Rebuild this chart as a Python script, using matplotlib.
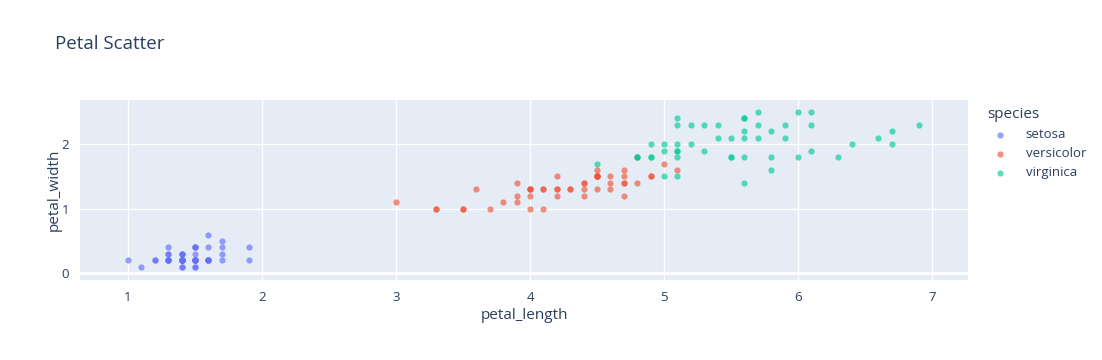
import matplotlib
matplotlib.use("Agg")
import matplotlib.pyplot as plt

# iris petal measurements
setosa_len = [1.4, 1.4, 1.3, 1.5, 1.4, 1.7, 1.4, 1.5, 1.4, 1.5, 1.5, 1.6, 1.4, 1.1, 1.2, 1.5, 1.3, 1.4, 1.7, 1.5,
              1.7, 1.5, 1.0, 1.7, 1.9, 1.6, 1.6, 1.5, 1.4, 1.6, 1.6, 1.5, 1.5, 1.4, 1.5, 1.2, 1.3, 1.4, 1.3, 1.5,
              1.3, 1.3, 1.3, 1.6, 1.9, 1.4, 1.6, 1.4, 1.5, 1.4]
setosa_wid = [0.2, 0.2, 0.2, 0.2, 0.2, 0.4, 0.3, 0.2, 0.2, 0.1, 0.2, 0.2, 0.1, 0.1, 0.2, 0.4, 0.4, 0.3, 0.3, 0.3,
              0.2, 0.4, 0.2, 0.5, 0.2, 0.2, 0.4, 0.2, 0.2, 0.2, 0.2, 0.4, 0.1, 0.2, 0.2, 0.2, 0.2, 0.1, 0.2, 0.2,
              0.3, 0.3, 0.2, 0.6, 0.4, 0.3, 0.2, 0.2, 0.2, 0.2]
versi_len = [4.7, 4.5, 4.9, 4.0, 4.6, 4.5, 4.7, 3.3, 4.6, 3.9, 3.5, 4.2, 4.0, 4.7, 3.6, 4.4, 4.5, 4.1, 4.5, 3.9,
             4.8, 4.0, 4.9, 4.7, 4.3, 4.4, 4.8, 5.0, 4.5, 3.5, 3.8, 3.7, 3.9, 5.1, 4.5, 4.5, 4.7, 4.4, 4.1, 4.0,
             4.4, 4.6, 4.0, 3.3, 4.2, 4.2, 4.2, 4.3, 3.0, 4.1]
versi_wid = [1.4, 1.5, 1.5, 1.3, 1.5, 1.3, 1.6, 1.0, 1.3, 1.4, 1.0, 1.5, 1.0, 1.4, 1.3, 1.4, 1.5, 1.0, 1.5, 1.1,
             1.8, 1.3, 1.5, 1.2, 1.3, 1.4, 1.4, 1.7, 1.5, 1.0, 1.1, 1.0, 1.2, 1.6, 1.5, 1.6, 1.5, 1.3, 1.3, 1.3,
             1.2, 1.4, 1.2, 1.0, 1.3, 1.2, 1.3, 1.3, 1.1, 1.3]
virg_len = [6.0, 5.1, 5.9, 5.6, 5.8, 6.6, 4.5, 6.3, 5.8, 6.1, 5.1, 5.3, 5.5, 5.0, 5.1, 5.3, 5.5, 6.7, 6.9, 5.0,
            5.7, 4.9, 6.7, 4.9, 5.7, 6.0, 4.8, 4.9, 5.6, 5.8, 6.1, 6.4, 5.6, 5.1, 5.6, 6.1, 5.6, 5.5, 4.8, 5.4,
            5.6, 5.1, 5.1, 5.9, 5.7, 5.2, 5.0, 5.2, 5.4, 5.1]
virg_wid = [2.5, 1.9, 2.1, 1.8, 2.2, 2.1, 1.7, 1.8, 1.8, 2.5, 2.0, 1.9, 2.1, 2.0, 2.4, 2.3, 1.8, 2.2, 2.3, 1.5,
            2.3, 2.0, 2.0, 1.8, 2.1, 1.8, 1.8, 1.8, 2.1, 1.6, 1.9, 2.0, 2.2, 1.5, 1.4, 2.3, 2.4, 1.8, 1.8, 2.1,
            2.4, 2.3, 1.9, 2.3, 2.5, 2.3, 1.9, 2.0, 2.3, 1.8]

species = ["setosa", "versicolor", "virginica"]
colors = ["#636EFA", "#EF553B", "#00CC96"]
xs = [setosa_len, versi_len, virg_len]
ys = [setosa_wid, versi_wid, virg_wid]

text_col = "#2A3F5F"
plt.rcParams["font.family"] = ["Open Sans", "DejaVu Sans"]

fig = plt.figure(figsize=(11.02, 3.6), dpi=100)
ax = fig.add_axes([80 / 1102, 80 / 360, 888 / 1102, 180 / 360])
ax.set_facecolor("#E5ECF6")
for s in ax.spines.values():
    s.set_visible(False)

for name, c, x, y in zip(species, colors, xs, ys):
    ax.scatter(x, y, s=20, color=c, alpha=0.65, linewidths=0, label=name, zorder=3)

ax.set_xlim(0.642, 7.269)
ax.set_ylim(-0.105, 2.686)
ax.set_xticks([1, 2, 3, 4, 5, 6, 7])
ax.set_yticks([0, 1, 2])
ax.grid(True, color="white", linewidth=1, zorder=0)
ax.axhline(0, color="white", linewidth=2, zorder=1)
ax.set_axisbelow(True)
ax.tick_params(length=0, labelsize=9.5, colors=text_col, pad=8)
ax.set_xlabel("petal_length", fontsize=11, color=text_col, labelpad=3)
ax.set_ylabel("petal_width", fontsize=11, color=text_col, labelpad=0)

fig.text(55 / 1102, 1 - 44 / 360, "Petal Scatter", fontsize=13.5, color=text_col, va="center")

leg = fig.legend(loc="upper left", bbox_to_anchor=(982 / 1102, 1 - 102 / 360), frameon=False,
                 title="species", fontsize=9.5, title_fontsize=11, markerscale=1.0,
                 handletextpad=0.9, labelspacing=0.45, alignment="left", borderaxespad=0)
for t in leg.get_texts():
    t.set_color(text_col)
leg.get_title().set_color(text_col)

fig.savefig("out.png", dpi=100)
